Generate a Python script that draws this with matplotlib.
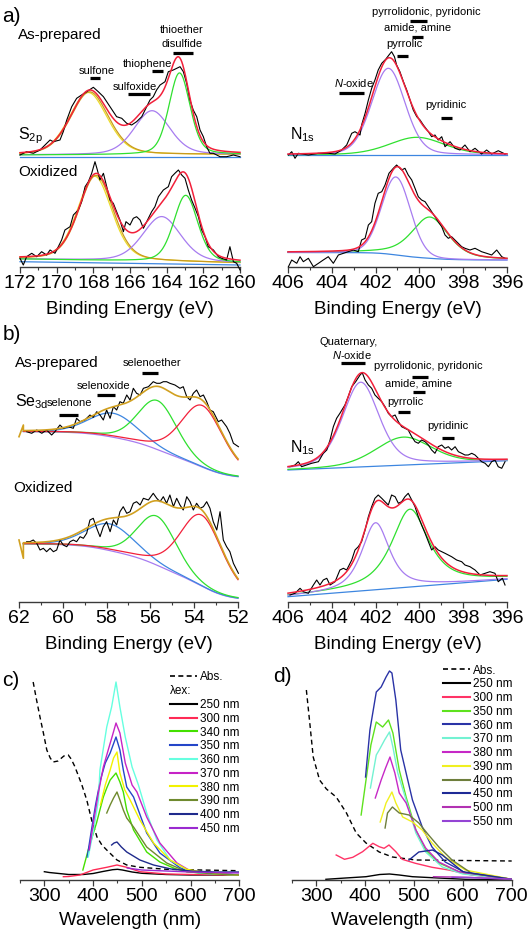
import numpy as np
import matplotlib
matplotlib.use('Agg')
import matplotlib.pyplot as plt
from matplotlib.lines import Line2D
from matplotlib.ticker import MultipleLocator

plt.rcParams['font.family'] = ['Liberation Sans', 'DejaVu Sans']
plt.rcParams['mathtext.fontset'] = 'custom'
plt.rcParams['mathtext.rm'] = 'Liberation Sans'
plt.rcParams['mathtext.it'] = 'Liberation Sans:italic'

W, H = 529, 931

# ------------------------------------------------------------------ data
# (a) S2p, as-prepared: measured trace (eV, intensity above trace baseline)
E_s2p_asp = [172.0, 171.64, 171.27, 170.91, 170.36, 170.18, 169.82, 169.64, 169.45, 169.18,
             168.91, 168.64, 168.36, 168.0, 167.73, 167.45, 167.09, 166.73, 166.45, 166.18,
             165.91, 165.64, 165.36, 165.09, 164.91, 164.73, 164.55, 164.36, 164.09, 163.91,
             163.64, 163.45, 163.27, 163.09, 162.91, 162.73, 162.55, 162.36, 162.18, 162.0,
             161.82, 161.64, 161.45, 161.09, 160.73, 160.36, 160.0]
I_s2p_asp = [0, 3.3, 1.7, 5, 15, 13.3, 15, 23.3, 35, 48.3,
             56.7, 60, 63.3, 67.7, 63.3, 58.3, 48.3, 38.3, 36.7, 31.7,
             30, 33.3, 38.3, 48.3, 55, 58.3, 65, 70, 73.3, 83.3,
             85, 86.7, 88.3, 83.3, 71.7, 55, 45, 38.3, 25, 18.3,
             8.3, 1.7, 1.7, -1.7, -1.7, 0, -1.7]
# fitted components: (centre eV, height, FWHM eV, lorentz fraction)
S2p_asp_sulfone = (168.2, 63, 2.45, 0.3)
S2p_asp_sulfoxide = (164.8, 44, 2.3, 0.3)
S2p_asp_thioether = (163.3, 81.7, 1.36, 0.3)
S2p_asp_bg = (0.0, 0.5)
S2p_asp_base = (-1.7, -1.7)

E_s2p_ox = [172.0, 171.82, 171.64, 171.36, 171.09, 170.82, 170.55, 170.36, 170.09, 169.91,
            169.73, 169.55, 169.27, 169.09, 168.82, 168.64, 168.45, 168.27, 168.09, 167.91,
            167.78, 167.64, 167.45, 167.27, 167.09, 166.91, 166.73, 166.55, 166.36, 166.22,
            166.0, 165.82, 165.64, 165.45, 165.27, 165.09, 164.82, 164.64, 164.45, 164.18,
            163.91, 163.73, 163.55, 163.36, 163.18, 163.0, 162.82, 162.64, 162.45, 162.27,
            162.09, 161.91, 161.73, 161.45, 161.18, 161.0, 160.73, 160.55, 160.36, 160.18, 160.0]
I_s2p_ox = [1.7, -5, 3.3, 6.7, 3.3, 8.3, 5, 10, 6.7, 13.3,
            20, 30, 33.3, 45, 50, 58.3, 73.3, 78.3, 86.7, 98.3,
            90, 80, 86.7, 73.3, 60, 56.7, 48.3, 40, 28.3, 38.3,
            35, 41.7, 43.3, 40, 31.7, 38.3, 48.3, 53.3, 63.3, 70,
            73.3, 83.3, 86.7, 90, 85, 81.7, 70, 60, 51.7, 43.3,
            30, 23.3, 13.3, 10, 3.3, 1.7, 0, 13.3, -1.7, -3.3, -10]
S2p_ox_sulfone = (167.85, 85, 2.2, 0.3)
S2p_ox_sulfoxide = (164.27, 45, 2.45, 0.3)
S2p_ox_thioether = (162.96, 66.7, 1.55, 0.3)
S2p_ox_bg = (1.0, -3.0)
S2p_ox_base = (-1.7, -5.0)

# (a) N1s
E_n1s_a_asp = [405.98, 405.83, 405.68, 405.53, 405.07, 404.61, 404.16, 403.85, 403.55, 403.32,
               403.09, 402.94, 402.71, 402.64, 402.48, 402.33, 402.18, 402.03, 401.88, 401.72,
               401.54, 401.39, 401.27, 401.14, 401.04, 400.89, 400.73, 400.58, 400.43, 400.28,
               400.12, 399.97, 399.82, 399.59, 399.44, 399.29, 399.14, 398.98, 398.83, 398.6,
               398.37, 398.15, 397.92, 397.69, 397.46, 397.16, 396.93, 396.7, 396.4, 396.09]
I_n1s_a_asp = [0, 3.3, -3.3, 1.7, 0, 1.7, 1.7, 1, 5, 10,
               21.7, 23.3, 20, 30, 41.7, 55, 66.7, 75, 85, 91.7,
               95.7, 100, 103.3, 98.3, 90, 83.3, 73.3, 65, 55, 45,
               38.3, 35, 30, 23.3, 18.3, 20, 15, 18.3, 8.3, 13.3,
               6.7, 5, 10, 3.3, 6.7, 1, 5, 1, 4.3, 1]
N1s_a_asp_main = (401.42, 86.7, 1.8, 0.2)
N1s_a_asp_low = (400.12, 17.7, 3.0, 0.3)
N1s_a_asp_bg = (0.0, 0.0)

E_n1s_a_ox = [405.98, 405.83, 405.6, 405.45, 405.3, 405.07, 404.84, 404.61, 404.39, 404.16,
              403.93, 403.7, 403.47, 403.25, 403.02, 402.79, 402.64, 402.48, 402.33, 402.18,
              402.03, 401.88, 401.72, 401.57, 401.39, 401.19, 401.04, 400.81, 400.66, 400.51,
              400.35, 400.2, 400.05, 399.9, 399.74, 399.59, 399.44, 399.29, 399.14, 398.98,
              398.83, 398.68, 398.53, 398.3, 398.07, 397.92, 397.69, 397.46, 397.16, 396.93,
              396.7, 396.47, 396.24, 396.09]
I_n1s_a_ox = [-6.7, 0, -3.3, 3.3, -1.7, 1.7, -6.7, -3.3, 0, 3.3,
              -3.3, 5, 6.7, 8.3, 10, 8.3, 20, 21.7, 35, 38.3,
              56.7, 66.7, 68.3, 75, 86.7, 91.7, 95, 90, 91.7, 85,
              80, 71.7, 63.3, 60, 58.3, 53.3, 48.3, 43.3, 38.3, 33.3,
              25, 21.7, 23.3, 18.3, 13.3, 11.7, 10, 11.7, 8.3, 6.7,
              5, 10, 3.3, 1.7]
N1s_a_ox_main = (401.07, 78, 1.55, 0.1)
N1s_a_ox_low = (399.52, 41.3, 2.0, 0.5)
N1s_a_ox_shirley = (7.5, 0.0)

# (b) Se3d
E_se_asp = [61.65, 61.42, 61.19, 60.96, 60.74, 60.51, 60.36, 60.13, 59.98, 59.75,
            59.52, 59.37, 59.21, 58.99, 58.76, 58.61, 58.45, 58.3, 58.15, 58.0,
            57.84, 57.69, 57.54, 57.39, 57.24, 57.08, 56.93, 56.78, 56.63, 56.47,
            56.32, 56.09, 55.87, 55.71, 55.56, 55.41, 55.26, 55.11, 54.88, 54.65,
            54.5, 54.34, 54.19, 54.04, 53.89, 53.73, 53.58, 53.43, 53.28, 53.13,
            52.9, 52.75, 52.52, 52.37, 52.21, 51.98]
I_se_asp = [170.3, 168.7, 172, 168.7, 172, 167, 170.3, 177, 173.7, 175.3,
            173.7, 183.7, 180.3, 182, 187, 184.7, 190.3, 187, 182, 192,
            183.7, 195.3, 192, 200.3, 198.7, 207, 202, 213.7, 208.7, 207,
            213.7, 215.3, 220.3, 218.7, 218.7, 220.3, 220.3, 218.7, 217, 213.7,
            215.3, 205.3, 202, 208.7, 212, 205.3, 207, 200.3, 192, 190.3,
            180.3, 182, 175.3, 168.7, 158.7, 155.3]
Se_asp_selenone = (57.69, 24, 2.6, 0.2)
Se_asp_selenoxide = (55.68, 49, 2.1, 0.2)
Se_asp_selenoether = (53.63, 61.6, 2.3, 0.3)
Se_asp_shirley = (170.3, 125.3)
Se_asp_lead_E = [62.0, 61.8]
Se_asp_lead_I = [165.3, 177.0]

E_se_ox = [61.65, 61.5, 61.35, 61.19, 61.04, 60.89, 60.74, 60.58, 60.43, 60.28,
           60.13, 59.98, 59.82, 59.67, 59.52, 59.37, 59.21, 59.06, 58.91, 58.76,
           58.61, 58.45, 58.3, 58.15, 58.0, 57.84, 57.69, 57.54, 57.39, 57.24,
           57.08, 56.93, 56.78, 56.63, 56.47, 56.32, 56.09, 55.87, 55.71, 55.56,
           55.41, 55.26, 55.11, 54.95, 54.8, 54.65, 54.5, 54.34, 54.19, 54.04,
           53.89, 53.73, 53.58, 53.43, 53.28, 53.13, 52.97, 52.82, 52.67, 52.52,
           52.37, 52.21, 51.98]
I_se_ox = [60.3, 60.3, 62, 58.7, 52, 53.7, 50.3, 53.7, 50.3, 52,
           62, 57, 55.3, 60.3, 62, 60.3, 65.3, 63.7, 68.7, 82,
           83.7, 73.7, 65.3, 75.3, 80.3, 70.3, 82, 77, 90.3, 95.3,
           88.7, 90.3, 98.7, 100.3, 97, 103.7, 102, 108.7, 103.7, 100.3,
           105.3, 98.7, 107, 95.3, 103.7, 97, 92, 105.3, 100.3, 92,
           98.7, 93.7, 95.3, 100.3, 93.7, 80.3, 72, 90.3, 62, 55.3,
           50.3, 38.7, 28.7]
Se_ox_selenone = (57.84, 26.7, 2.6, 0.2)
Se_ox_selenoxide = (55.71, 49, 2.1, 0.2)
Se_ox_selenoether = (53.66, 71, 2.3, 0.3)
Se_ox_shirley = (58.0, 3.7)
Se_ox_lead_E = [62.0, 61.8]
Se_ox_lead_I = [62.0, 43.7]

# (b) N1s
E_n1s_b_asp = [405.91, 405.68, 405.53, 405.38, 405.15, 404.92, 404.61, 404.39, 404.23, 404.08,
               403.93, 403.78, 403.63, 403.4, 403.25, 403.09, 402.91, 402.71, 402.61, 402.48,
               402.33, 402.18, 402.03, 401.88, 401.72, 401.57, 401.42, 401.27, 401.11, 400.96,
               400.81, 400.66, 400.51, 400.35, 400.2, 400.05, 399.9, 399.74, 399.59, 399.44,
               399.29, 399.14, 398.98, 398.83, 398.68, 398.53, 398.37, 398.22, 398.07, 397.92,
               397.77, 397.61, 397.46, 397.31, 397.16, 397.0, 396.85, 396.7, 396.55, 396.4,
               396.24, 396.09]
I_n1s_b_asp = [135.3, 137, 140.3, 135.3, 137, 138.7, 140.3, 148.7, 152, 162,
               175.3, 183.7, 188.7, 197, 205.3, 215.3, 220.3, 227, 229.3, 222,
               217, 213.7, 207, 203.7, 200.3, 195.3, 188.7, 185.3, 187, 180.3,
               175.3, 173.7, 172, 165.3, 160.3, 158.7, 162, 160.3, 157, 152,
               148.7, 155.3, 157, 153.7, 155.3, 152, 155.3, 150.3, 148.7, 147,
               147, 148.7, 147, 143.7, 140.3, 138.7, 135.3, 140.3, 142, 135.3,
               133.7, 140.3]
N1s_b_asp_main = (402.68, 84.7, 1.98, 0.4)
N1s_b_asp_low = (400.73, 28, 3.0, 0.3)
N1s_b_asp_bg = (132.0, 141.3)

E_n1s_b_ox = [405.91, 405.68, 405.45, 405.3, 405.07, 404.84, 404.69, 404.54, 404.39, 404.23,
              404.08, 403.85, 403.63, 403.47, 403.32, 403.09, 402.94, 402.79, 402.64, 402.48,
              402.33, 402.18, 402.03, 401.88, 401.72, 401.57, 401.42, 401.27, 401.11, 400.96,
              400.81, 400.66, 400.51, 400.35, 400.2, 400.05, 399.9, 399.74, 399.59, 399.44,
              399.29, 399.14, 398.83, 398.53, 398.3, 398.07, 397.92, 397.69, 397.46, 397.23,
              397.0, 396.78, 396.55, 396.4, 396.21, 396.09]
I_n1s_b_ox = [7, 8.7, 13.7, 10.3, 8.7, 17, 22, 17, 22, 23.7,
              17, 20.3, 32, 33.7, 32, 42, 52, 55.3, 60.3, 72,
              85.3, 95.3, 103.7, 107, 103.7, 100.3, 97, 107, 105.3, 98.7,
              100.3, 105.3, 108.7, 102, 95.3, 85.3, 77, 68.7, 60.3, 52,
              55.3, 52, 48.7, 45.3, 42, 40.3, 37, 35.3, 32, 27,
              28.7, 30.3, 28.7, 20.3, 23.7, 17]
N1s_b_ox_main = (402.0, 67, 1.5, 0.7)
N1s_b_ox_low = (400.43, 77.8, 2.0, 0.8)
N1s_b_ox_bg = (5.3, 22.7)

# (c) emission spectra, wavelength (nm) and intensity
c_abs_x = [277, 284, 291, 298, 305, 312, 318, 328, 340, 349, 355, 362, 370, 377, 387, 397,
           408, 418, 428, 449, 469, 496, 551, 620, 700]
c_abs_y = [198, 180, 163, 147, 130, 122, 118, 119, 124, 125, 121, 114, 104, 95, 80, 60,
           43, 35, 30, 20, 15, 12.7, 10.7, 10, 9.3]
c_250_x = [300, 310, 330, 350, 380, 400, 420, 440, 450, 460, 480, 500, 550, 600, 700]
c_250_y = [8.3, 7.5, 6.5, 5.5, 5.5, 6.5, 8.5, 10.3, 10.7, 10, 8, 6.7, 5.5, 5, 5]
c_300_x = [339, 350, 373, 400, 428, 449, 469, 496, 550, 600, 700]
c_300_y = [3.3, 3.5, 5, 10, 12.7, 15, 12.7, 8.3, 6, 5.5, 5]
c_340_x = [379, 390, 400, 407, 415, 421, 428, 435, 447, 455, 462, 469, 483, 510, 537, 570, 593, 620, 700]
c_340_y = [10, 30, 46, 57, 72, 83, 92, 100, 107, 98, 88, 70, 50, 28, 18, 11, 8.3, 7, 5]
c_350_x = [388, 395, 405, 415, 425, 435, 447, 455, 462, 469, 483, 510, 537, 579, 620, 700]
c_350_y = [23, 45, 75, 100, 117, 127, 143, 130, 110, 93, 83, 47, 27, 12, 7, 5]
c_360_x = [390, 401, 411, 414, 428, 438, 447, 455, 466, 480, 493, 510, 531, 558, 593, 620, 700]
c_360_y = [23, 50, 80, 110, 153, 173, 198, 173, 143, 113, 95, 67, 40, 20, 10, 6.7, 5]
c_370_x = [392, 400, 410, 421, 431, 440, 447, 455, 466, 480, 490, 510, 537, 572, 600, 700]
c_370_y = [30, 55, 85, 113, 130, 145, 157, 147, 117, 95, 88, 63, 37, 17, 9, 5]
c_380_x = [415, 425, 435, 442, 449, 455, 465, 476, 496, 524, 558, 592, 650, 700]
c_380_y = [75, 95, 110, 122, 128, 107, 90, 80, 60, 37, 20, 10.7, 6, 5]
c_390_x = [428, 435, 442, 449, 455, 462, 469, 483, 510, 551, 592, 650, 700]
c_390_y = [67, 75, 82, 88, 80, 70, 62, 53, 33, 17, 8.3, 6, 5]
c_400_x = [438, 443, 449, 458, 469, 496, 524, 560, 600, 650, 700]
c_400_y = [35, 37, 38, 33, 28, 20, 15, 11, 9, 8, 8]
c_450_x = [470, 500, 550, 600, 650, 700]
c_450_y = [12, 10, 9, 8, 7.5, 7]
c_labels = ['250 nm', '300 nm', '340 nm', '350 nm', '360 nm', '370 nm',
            '380 nm', '390 nm', '400 nm', '450 nm']

# (d)
d_abs_x = [280, 287, 294, 307, 321, 341, 362, 382, 402, 429, 456, 504, 600, 700]
d_abs_y = [190, 157, 123, 100, 91, 83, 67, 47, 37, 28, 23, 20, 19.5, 19]
d_250_x = [320, 360, 402, 430, 450, 470, 497, 550, 605, 700]
d_250_y = [0.7, 2, 3.3, 5.5, 6, 5, 3.3, 2, 0.7, 0]
d_300_x = [341, 358, 375, 395, 416, 429, 439, 449, 463, 476, 503, 537, 571, 618, 700]
d_300_y = [25, 20.7, 22.7, 28.3, 36.7, 33.3, 31.7, 35, 28.3, 20.7, 16.7, 12.7, 10, 5, 0.7]
d_350_x = [392, 402, 412, 423, 436, 448, 457, 470, 484, 504, 524, 551, 592, 700]
d_350_y = [65, 100, 135, 158, 153, 160, 147, 110, 83, 50, 30, 17, 8.3, 0.7]
d_360_x = [401, 410, 423, 433, 443, 450, 455, 463, 473, 484, 497, 517, 537, 564, 605, 700]
d_360_y = [103, 150, 188, 193, 203, 209, 207, 180, 130, 107, 80, 53, 33, 18, 7.3, 0.7]
d_370_x = [411, 423, 429, 440, 450, 457, 467, 484, 504, 524, 558, 600, 700]
d_370_y = [92, 125, 130, 140, 148, 133, 107, 80, 47, 28, 13, 6, 0.7]
d_380_x = [421, 433, 442, 451, 461, 470, 484, 504, 524, 551, 592, 700]
d_380_y = [82, 100, 112, 123, 107, 87, 77, 50, 32, 18, 8.3, 0.7]
d_390_x = [431, 443, 455, 463, 477, 497, 517, 537, 564, 605, 700]
d_390_y = [58, 77, 88, 77, 63, 58, 50, 37, 23, 10, 0.7]
d_400_x = [441, 446, 456, 470, 490, 510, 530, 551, 578, 618, 700]
d_400_y = [52, 67, 73, 67, 65, 57, 45, 33, 20, 6.7, 0.7]
d_450_x = [490, 510, 538, 558, 578, 600, 700]
d_450_y = [20, 28, 30, 25, 17, 8.3, 0.7]
d_500_x = [540, 580, 620, 660, 700]
d_500_y = [3.3, 3, 2.5, 1.5, 0.7]
d_550_x = [578, 610, 640, 670, 700]
d_550_y = [2.7, 2.5, 2, 1.5, 0.7]
d_labels = ['250 nm', '300 nm', '350 nm', '360 nm', '370 nm', '380 nm',
            '390 nm', '400 nm', '450 nm', '500 nm', '550 nm']

# ------------------------------------------------------------------ helpers
C_RED = '#f2203a'
C_ORANGE = '#c99a1e'
C_YELLOW = '#ecdc2a'
C_PURPLE = '#a77cf0'
C_GREEN = '#2fe02f'
C_BLUE = '#3d86e0'
C_GOLD = '#d1a020'


def pv(E, p):
    c, h, w, eta = p
    x = (E - c) / w
    return h * ((1 - eta) * np.exp(-4 * np.log(2) * x ** 2) + eta / (1 + 4 * x ** 2))


def shirley(E, peaks, high, low):
    order = np.argsort(E)
    Es, ps = E[order], peaks[order]
    cum = np.concatenate([[0.0], np.cumsum(0.5 * (ps[1:] + ps[:-1]) * np.diff(Es))])
    bg = np.empty_like(E)
    bg[order] = low + (high - low) * cum / cum[-1]
    return bg


def linbg(E, ends, e0, e1):
    return ends[0] + (ends[1] - ends[0]) * (E - e0) / (e1 - e0)


fig = plt.figure(figsize=(W / 100, H / 100), dpi=100)


def add_ax(x0, x1, ybot, ytop):
    return fig.add_axes([x0 / W, 1 - ybot / H, (x1 - x0) / W, (ybot - ytop) / H])


def style_ax(ax, xlim, major, minor, ylim, label, pad):
    ax.set_xlim(*xlim)
    ax.set_ylim(*ylim)
    for s in ['left', 'right', 'top']:
        ax.spines[s].set_visible(False)
    ax.spines['bottom'].set_color('#3a3a3a')
    ax.spines['bottom'].set_linewidth(1.0)
    ax.set_yticks([])
    ax.xaxis.set_major_locator(MultipleLocator(major))
    ax.xaxis.set_minor_locator(MultipleLocator(minor))
    ax.tick_params(axis='x', which='major', direction='out', length=4, width=0.9,
                   labelsize=14, pad=1.5, colors='#3a3a3a', labelcolor='black')
    ax.tick_params(axis='x', which='minor', direction='out', length=2.5, width=0.8,
                   colors='#3a3a3a')
    ax.set_xlabel(label, fontsize=13.5, labelpad=pad)
    ax.patch.set_alpha(0)


def ftext(x, y, s, size=8, ha='center', **kw):
    fig.text(x / W, 1 - y / H, s, fontsize=size, ha=ha, va='center', **kw)


def bars(ax, lst):
    for e1, e2, y in lst:
        ax.plot([e1, e2], [y, y], color='black', lw=2.3, solid_capstyle='butt', clip_on=False)


def L(ax, x, y, c, lw=0.9, z=2, **kw):
    ax.plot(x, y, color=c, lw=lw, zorder=z, clip_on=False, **kw)


# ------------------------------------------------------------------ (a) S2p
axA1 = add_ax(20, 240, 267, 5)
style_ax(axA1, (172, 160), 2, 1, (0, 262), 'Binding Energy (eV)', 6.5)
E = np.linspace(172, 160, 500)
for off, comps, bge, base, xs, ys in [
        (112, (S2p_asp_sulfone, S2p_asp_sulfoxide, S2p_asp_thioether), S2p_asp_bg, S2p_asp_base,
         E_s2p_asp, I_s2p_asp),
        (7, (S2p_ox_sulfone, S2p_ox_sulfoxide, S2p_ox_thioether), S2p_ox_bg, S2p_ox_base,
         E_s2p_ox, I_s2p_ox)]:
    bg = linbg(E, bge, 172, 160)
    L(axA1, [172, 160], [off + base[0], off + base[1]], C_BLUE)
    sul = comps[0]
    L(axA1, E, off + bg + pv(E, (sul[0] + 0.08, sul[1] * 0.99, sul[2], sul[3])), C_YELLOW)
    for p, col in zip(comps, [C_ORANGE, C_PURPLE, C_GREEN]):
        L(axA1, E, off + bg + pv(E, p), col)
    L(axA1, np.array(xs), off + np.array(ys), 'black', lw=0.8, z=3)
    L(axA1, E, off + bg + sum(pv(E, p) for p in comps), C_RED, lw=1.1, z=4)
bars(axA1, [(168.18, 167.64, 188.7), (166.11, 164.91, 172.7),
            (164.80, 164.20, 196.3), (163.65, 162.56, 213.7)])

# ------------------------------------------------------------------ (a) N1s
axA2 = add_ax(288, 507, 267, 5)
style_ax(axA2, (406, 396), 2, 1, (0, 262), 'Binding Energy (eV)', 6.5)
E = np.linspace(406, 396, 500)
off = 112
bg = linbg(E, N1s_a_asp_bg, 406, 396)
L(axA2, E, off + bg, C_BLUE)
L(axA2, E, off + bg + pv(E, N1s_a_asp_low), C_GREEN)
L(axA2, E, off + bg + pv(E, N1s_a_asp_main), C_PURPLE)
L(axA2, np.array(E_n1s_a_asp), off + np.array(I_n1s_a_asp), 'black', lw=0.8, z=3)
L(axA2, E, off + bg + pv(E, N1s_a_asp_main) + pv(E, N1s_a_asp_low), C_RED, lw=1.1, z=4)
off = 7
pk = pv(E, N1s_a_ox_main) + pv(E, N1s_a_ox_low)
bg = shirley(E, pk, *N1s_a_ox_shirley)
L(axA2, E, off + bg, C_BLUE)
L(axA2, E, off + bg + pv(E, N1s_a_ox_low), C_GREEN)
L(axA2, E, off + bg + pv(E, N1s_a_ox_main), C_PURPLE)
L(axA2, np.array(E_n1s_a_ox), off + np.array(I_n1s_a_ox), 'black', lw=0.8, z=3)
L(axA2, E, off + bg + pk, C_RED, lw=1.1, z=4)
bars(axA2, [(400.43, 399.65, 246.3), (400.34, 399.84, 230.3), (401.02, 400.52, 211),
            (403.67, 402.53, 173.7), (399.01, 398.51, 148.7)])

# ------------------------------------------------------------------ (b) Se3d
axB1 = add_ax(19, 238, 602, 330)
style_ax(axB1, (62, 52), 2, 1, (0, 272), 'Binding Energy (eV)', 6.5)
E = np.linspace(61.8, 52, 500)
for comps, shp, xs, ys, le, li in [
        ((Se_asp_selenone, Se_asp_selenoxide, Se_asp_selenoether), Se_asp_shirley,
         E_se_asp, I_se_asp, Se_asp_lead_E, Se_asp_lead_I),
        ((Se_ox_selenone, Se_ox_selenoxide, Se_ox_selenoether), Se_ox_shirley,
         E_se_ox, I_se_ox, Se_ox_lead_E, Se_ox_lead_I)]:
    pk = sum(pv(E, p) for p in comps)
    bg = shirley(E, pk, *shp)
    L(axB1, E, bg, C_PURPLE)
    for p, col in zip(comps, [C_BLUE, C_GREEN, C_RED]):
        L(axB1, E, bg + pv(E, p), col)
    L(axB1, np.array(xs), np.array(ys), 'black', lw=0.8, z=3)
    L(axB1, np.concatenate([le, E]), np.concatenate([li, bg + pk]), C_GOLD, lw=1.2, z=4)
bars(axB1, [(56.38, 55.65, 228.7), (58.44, 57.62, 207), (60.17, 59.31, 187)])

# ------------------------------------------------------------------ (b) N1s
axB2 = add_ax(288, 507, 602, 330)
style_ax(axB2, (406, 396), 2, 1, (0, 272), 'Binding Energy (eV)', 6.5)
E = np.linspace(406, 396, 500)
for pmain, plow, bge, xs, ys in [
        (N1s_b_asp_main, N1s_b_asp_low, N1s_b_asp_bg, E_n1s_b_asp, I_n1s_b_asp),
        (N1s_b_ox_main, N1s_b_ox_low, N1s_b_ox_bg, E_n1s_b_ox, I_n1s_b_ox)]:
    bg = linbg(E, bge, 406, 396)
    L(axB2, E, bg, C_BLUE)
    L(axB2, E, bg + pv(E, plow), C_GREEN)
    L(axB2, E, bg + pv(E, pmain), C_PURPLE)
    L(axB2, np.array(xs), np.array(ys), 'black', lw=0.8, z=3)
    L(axB2, E, bg + pv(E, pmain) + pv(E, plow), C_RED, lw=1.1, z=4)
bars(axB2, [(403.58, 402.48, 239.3), (400.34, 399.61, 225.3), (400.29, 399.74, 210),
            (400.98, 400.43, 190.3), (398.97, 398.42, 163.7)])

# ------------------------------------------------------------------ (c)
axC = add_ax(20, 239.3, 880, 640)
style_ax(axC, (250, 700), 100, 50, (0, 240), 'Wavelength (nm)', 5)
c_series = [(c_250_x, c_250_y, 'black'), (c_300_x, c_300_y, '#ff2a55'),
            (c_340_x, c_340_y, '#44e000'), (c_350_x, c_350_y, '#2446c8'),
            (c_360_x, c_360_y, '#66ffe0'), (c_370_x, c_370_y, '#c623c6'),
            (c_380_x, c_380_y, '#f2f200'), (c_390_x, c_390_y, '#6f8a2e'),
            (c_400_x, c_400_y, '#1f2a8c'), (c_450_x, c_450_y, '#9a2ad0')]
dash = (0, (3.5, 2.5))
axC.plot(c_abs_x, c_abs_y, color='black', lw=1.0, ls=dash, zorder=1)
hC = []
for (x, y, col), lab in zip(c_series, c_labels):
    ln, = axC.plot(x, y, color=col, lw=1.0)
    hC.append(ln)
leg_kw = dict(frameon=False, fontsize=8.5, handlelength=2.3, handletextpad=0.25,
              labelspacing=0.15, borderpad=0, borderaxespad=0, loc='upper left',
              bbox_transform=fig.transFigure)
lg1 = axC.legend([Line2D([], [], color='black', lw=1.2, ls=(0, (3, 2)))], ['Abs.'],
                 bbox_to_anchor=(170 / W, 1 - 671 / H), **leg_kw)
axC.add_artist(lg1)
axC.legend([Line2D([], [], color=h.get_color(), lw=1.5) for h in hC], c_labels,
           bbox_to_anchor=(170 / W, 1 - 699 / H), **leg_kw)
ftext(170, 690.7, 'λex:', size=8.5, ha='left')

# ------------------------------------------------------------------ (d)
axD = add_ax(291.7, 511.7, 880, 640)
style_ax(axD, (250, 700), 100, 50, (0, 240), 'Wavelength (nm)', 5)
d_series = [(d_250_x, d_250_y, 'black'), (d_300_x, d_300_y, '#ff3366'),
            (d_350_x, d_350_y, '#5ee21e'), (d_360_x, d_360_y, '#2a33a6'),
            (d_370_x, d_370_y, '#73f2d2'), (d_380_x, d_380_y, '#c628c6'),
            (d_390_x, d_390_y, '#f0f020'), (d_400_x, d_400_y, '#6e7e3c'),
            (d_450_x, d_450_y, '#1e2a96'), (d_500_x, d_500_y, '#b232b2'),
            (d_550_x, d_550_y, '#9444d4')]
axD.plot(d_abs_x, d_abs_y, color='black', lw=1.0, ls=dash, zorder=1)
hD = [Line2D([], [], color='black', lw=1.2, ls=(0, (3, 2)))]
for x, y, col in d_series:
    axD.plot(x, y, color=col, lw=1.0)
    hD.append(Line2D([], [], color=col, lw=1.5))
axD.legend(hD, ['Abs.'] + d_labels, bbox_to_anchor=(443 / W, 1 - 664.5 / H), **leg_kw)

# ------------------------------------------------------------------ texts
ftext(2, 16, 'a)', size=15, ha='left')
ftext(18, 35.5, 'As-prepared', size=11, ha='left')
ftext(18, 136, r'S$_\mathrm{2p}$', size=11.5, ha='left')
ftext(18, 172.5, 'Oxidized', size=11, ha='left')
ftext(96.5, 71, 'sulfone')
ftext(135, 87, 'sulfoxide')
ftext(147.5, 64, 'thiophene')
ftext(181.5, 30, 'thioether')
ftext(182.5, 44, 'disulfide')
ftext(426.5, 12, 'pyrrolidonic, pyridonic')
ftext(417.5, 28, 'amide, amine')
ftext(404, 44, 'pyrrolic')
ftext(354, 83, r'$\mathit{N}$-oxide')
ftext(446, 105.5, 'pyridinic')
ftext(290, 135, r'N$_\mathrm{1s}$', size=11.5, ha='left')

ftext(3, 335, 'b)', size=15, ha='left')
ftext(15, 362.5, 'As-prepared', size=11, ha='left')
ftext(15, 402, r'Se$_\mathrm{3d}$', size=11.5, ha='left')
ftext(69.5, 402.5, 'selenone')
ftext(104, 386, 'selenoxide')
ftext(152, 362.5, 'selenoether')
ftext(13, 488, 'Oxidized', size=11, ha='left')
ftext(348.5, 342, 'Quaternary,')
ftext(352, 355.5, r'$\mathit{N}$-oxide')
ftext(428, 366, 'pyrrolidonic, pyridonic')
ftext(419, 383.5, 'amide, amine')
ftext(405.5, 402, 'pyrrolic')
ftext(447.5, 425.5, 'pyridinic')
ftext(290, 448, r'N$_\mathrm{1s}$', size=11.5, ha='left')

ftext(2, 680, 'c)', size=15, ha='left')
ftext(273, 677, 'd)', size=15, ha='left')

fig.savefig('out.png', dpi=100)
